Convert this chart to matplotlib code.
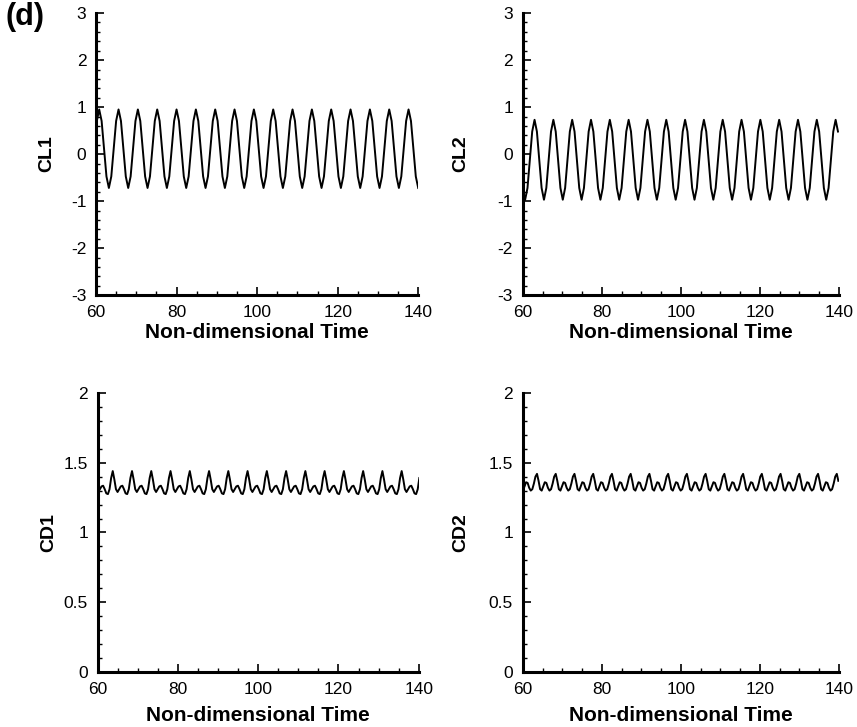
import numpy as np
import matplotlib
matplotlib.use("Agg")
import matplotlib.pyplot as plt
from matplotlib.ticker import MultipleLocator, FormatStrFormatter

plt.rcParams['font.family'] = ['Liberation Sans', 'DejaVu Sans']
plt.rcParams['axes.unicode_minus'] = False

# sampling times of each force history (uniform output steps)
t_cl1 = np.linspace(60.2, 140.0, 134)
t_cl2 = np.linspace(60.6, 139.74, 134)
t_cd1 = np.linspace(60.15, 140.15, 201)
t_cd2 = np.linspace(60.045, 139.835, 203)

# lift coefficient, cylinder 1 (one row per shedding cycle)
cl1 = [0.705,
       0.95, 0.705, 0.115, -0.475, -0.72, -0.475, 0.115, 0.705,
       0.95, 0.705, 0.115, -0.475, -0.72, -0.475, 0.115, 0.705,
       0.95, 0.705, 0.115, -0.475, -0.72, -0.475, 0.115, 0.705,
       0.95, 0.705, 0.115, -0.475, -0.72, -0.475, 0.115, 0.705,
       0.95, 0.705, 0.115, -0.475, -0.72, -0.475, 0.115, 0.705,
       0.95, 0.705, 0.115, -0.475, -0.72, -0.475, 0.115, 0.705,
       0.95, 0.705, 0.115, -0.475, -0.72, -0.475, 0.115, 0.705,
       0.95, 0.705, 0.115, -0.475, -0.72, -0.475, 0.115, 0.705,
       0.95, 0.705, 0.115, -0.475, -0.72, -0.475, 0.115, 0.705,
       0.95, 0.705, 0.115, -0.475, -0.72, -0.475, 0.115, 0.705,
       0.95, 0.705, 0.115, -0.475, -0.72, -0.475, 0.115, 0.705,
       0.95, 0.705, 0.115, -0.475, -0.72, -0.475, 0.115, 0.705,
       0.95, 0.705, 0.115, -0.475, -0.72, -0.475, 0.115, 0.705,
       0.95, 0.705, 0.115, -0.475, -0.72, -0.475, 0.115, 0.705,
       0.95, 0.705, 0.115, -0.475, -0.72, -0.475, 0.115, 0.705,
       0.95, 0.705, 0.115, -0.475, -0.72, -0.475, 0.115, 0.705,
       0.95, 0.705, 0.115, -0.475, -0.72]

# lift coefficient, cylinder 2
cl2 = [-0.97, -0.72, -0.12, 0.48, 0.73, 0.48, -0.12, -0.72,
       -0.97, -0.72, -0.12, 0.48, 0.73, 0.48, -0.12, -0.72,
       -0.97, -0.72, -0.12, 0.48, 0.73, 0.48, -0.12, -0.72,
       -0.97, -0.72, -0.12, 0.48, 0.73, 0.48, -0.12, -0.72,
       -0.97, -0.72, -0.12, 0.48, 0.73, 0.48, -0.12, -0.72,
       -0.97, -0.72, -0.12, 0.48, 0.73, 0.48, -0.12, -0.72,
       -0.97, -0.72, -0.12, 0.48, 0.73, 0.48, -0.12, -0.72,
       -0.97, -0.72, -0.12, 0.48, 0.73, 0.48, -0.12, -0.72,
       -0.97, -0.72, -0.12, 0.48, 0.73, 0.48, -0.12, -0.72,
       -0.97, -0.72, -0.12, 0.48, 0.73, 0.48, -0.12, -0.72,
       -0.97, -0.72, -0.12, 0.48, 0.73, 0.48, -0.12, -0.72,
       -0.97, -0.72, -0.12, 0.48, 0.73, 0.48, -0.12, -0.72,
       -0.97, -0.72, -0.12, 0.48, 0.73, 0.48, -0.12, -0.72,
       -0.97, -0.72, -0.12, 0.48, 0.73, 0.48, -0.12, -0.72,
       -0.97, -0.72, -0.12, 0.48, 0.73, 0.48, -0.12, -0.72,
       -0.97, -0.72, -0.12, 0.48, 0.73, 0.48, -0.12, -0.72,
       -0.97, -0.72, -0.12, 0.48, 0.73, 0.48]

# drag coefficient, cylinder 1
cd1 = [1.29, 1.31, 1.33, 1.335, 1.31, 1.28, 1.275, 1.31, 1.39,
       1.44, 1.38, 1.31, 1.29, 1.31, 1.33, 1.335, 1.31, 1.28, 1.275, 1.31, 1.39,
       1.44, 1.38, 1.31, 1.29, 1.31, 1.33, 1.335, 1.31, 1.28, 1.275, 1.31, 1.39,
       1.44, 1.38, 1.31, 1.29, 1.31, 1.33, 1.335, 1.31, 1.28, 1.275, 1.31, 1.39,
       1.44, 1.38, 1.31, 1.29, 1.31, 1.33, 1.335, 1.31, 1.28, 1.275, 1.31, 1.39,
       1.44, 1.38, 1.31, 1.29, 1.31, 1.33, 1.335, 1.31, 1.28, 1.275, 1.31, 1.39,
       1.44, 1.38, 1.31, 1.29, 1.31, 1.33, 1.335, 1.31, 1.28, 1.275, 1.31, 1.39,
       1.44, 1.38, 1.31, 1.29, 1.31, 1.33, 1.335, 1.31, 1.28, 1.275, 1.31, 1.39,
       1.44, 1.38, 1.31, 1.29, 1.31, 1.33, 1.335, 1.31, 1.28, 1.275, 1.31, 1.39,
       1.44, 1.38, 1.31, 1.29, 1.31, 1.33, 1.335, 1.31, 1.28, 1.275, 1.31, 1.39,
       1.44, 1.38, 1.31, 1.29, 1.31, 1.33, 1.335, 1.31, 1.28, 1.275, 1.31, 1.39,
       1.44, 1.38, 1.31, 1.29, 1.31, 1.33, 1.335, 1.31, 1.28, 1.275, 1.31, 1.39,
       1.44, 1.38, 1.31, 1.29, 1.31, 1.33, 1.335, 1.31, 1.28, 1.275, 1.31, 1.39,
       1.44, 1.38, 1.31, 1.29, 1.31, 1.33, 1.335, 1.31, 1.28, 1.275, 1.31, 1.39,
       1.44, 1.38, 1.31, 1.29, 1.31, 1.33, 1.335, 1.31, 1.28, 1.275, 1.31, 1.39,
       1.44, 1.38, 1.31, 1.29, 1.31, 1.33, 1.335, 1.31, 1.28, 1.275, 1.31, 1.39,
       1.44, 1.38, 1.31, 1.29, 1.31, 1.33, 1.335, 1.31, 1.28, 1.275, 1.31, 1.39]

# drag coefficient, cylinder 2
cd2 = [1.30, 1.33, 1.36, 1.355, 1.32, 1.30, 1.31, 1.35, 1.40,
       1.42, 1.37, 1.31, 1.30, 1.33, 1.36, 1.355, 1.32, 1.30, 1.31, 1.35, 1.40,
       1.42, 1.37, 1.31, 1.30, 1.33, 1.36, 1.355, 1.32, 1.30, 1.31, 1.35, 1.40,
       1.42, 1.37, 1.31, 1.30, 1.33, 1.36, 1.355, 1.32, 1.30, 1.31, 1.35, 1.40,
       1.42, 1.37, 1.31, 1.30, 1.33, 1.36, 1.355, 1.32, 1.30, 1.31, 1.35, 1.40,
       1.42, 1.37, 1.31, 1.30, 1.33, 1.36, 1.355, 1.32, 1.30, 1.31, 1.35, 1.40,
       1.42, 1.37, 1.31, 1.30, 1.33, 1.36, 1.355, 1.32, 1.30, 1.31, 1.35, 1.40,
       1.42, 1.37, 1.31, 1.30, 1.33, 1.36, 1.355, 1.32, 1.30, 1.31, 1.35, 1.40,
       1.42, 1.37, 1.31, 1.30, 1.33, 1.36, 1.355, 1.32, 1.30, 1.31, 1.35, 1.40,
       1.42, 1.37, 1.31, 1.30, 1.33, 1.36, 1.355, 1.32, 1.30, 1.31, 1.35, 1.40,
       1.42, 1.37, 1.31, 1.30, 1.33, 1.36, 1.355, 1.32, 1.30, 1.31, 1.35, 1.40,
       1.42, 1.37, 1.31, 1.30, 1.33, 1.36, 1.355, 1.32, 1.30, 1.31, 1.35, 1.40,
       1.42, 1.37, 1.31, 1.30, 1.33, 1.36, 1.355, 1.32, 1.30, 1.31, 1.35, 1.40,
       1.42, 1.37, 1.31, 1.30, 1.33, 1.36, 1.355, 1.32, 1.30, 1.31, 1.35, 1.40,
       1.42, 1.37, 1.31, 1.30, 1.33, 1.36, 1.355, 1.32, 1.30, 1.31, 1.35, 1.40,
       1.42, 1.37, 1.31, 1.30, 1.33, 1.36, 1.355, 1.32, 1.30, 1.31, 1.35, 1.40,
       1.42, 1.37, 1.31, 1.30, 1.33, 1.36, 1.355, 1.32, 1.30, 1.31, 1.35, 1.40,
       1.42, 1.37]

# series, name, y range, major/minor y step, axes rect, ylabel x, xlabel y
panels = [
    (t_cl1, cl1, "CL1", (-3, 3), 1, 0.2, [0.112, 0.594, 0.376, 0.388], -0.127, -0.10),
    (t_cl2, cl2, "CL2", (-3, 3), 1, 0.2, [0.610, 0.594, 0.369, 0.388], -0.17, -0.10),
    (t_cd1, cd1, "CD1", (0, 2), 0.5, 0.1, [0.114, 0.0757, 0.3746, 0.3838], -0.125, -0.122),
    (t_cd2, cd2, "CD2", (0, 2), 0.5, 0.1, [0.610, 0.0757, 0.369, 0.3838], -0.168, -0.122),
]

fig = plt.figure(figsize=(8.57, 7.27), dpi=100)

for t, y, name, ylim, ymaj, ymin, rect, ylab_x, xlab_y in panels:
    ax = fig.add_axes(rect)
    ax.plot(t, y, color='black', lw=1.4)
    ax.set_xlim(60, 140)
    ax.set_ylim(*ylim)
    ax.xaxis.set_major_locator(MultipleLocator(20))
    ax.xaxis.set_minor_locator(MultipleLocator(5))
    ax.yaxis.set_major_locator(MultipleLocator(ymaj))
    ax.yaxis.set_minor_locator(MultipleLocator(ymin))
    ax.yaxis.set_major_formatter(FormatStrFormatter('%g'))
    for s in ['top', 'right']:
        ax.spines[s].set_visible(False)
    for s in ['left', 'bottom']:
        ax.spines[s].set_linewidth(2.2)
    ax.tick_params(which='major', direction='in', length=6, width=1.2, labelsize=12.5, pad=7)
    ax.tick_params(which='minor', direction='in', length=3, width=1)
    ax.set_ylabel(name, fontsize=14, fontweight='bold')
    ax.yaxis.set_label_coords(ylab_x, 0.5)
    ax.set_xlabel("Non-dimensional Time", fontsize=15, fontweight='bold')
    ax.xaxis.set_label_coords(0.5, xlab_y)

fig.text(0.006, 0.997, "(d)", fontsize=22, fontweight='bold', ha='left', va='top')

fig.savefig("out.png", dpi=100)
